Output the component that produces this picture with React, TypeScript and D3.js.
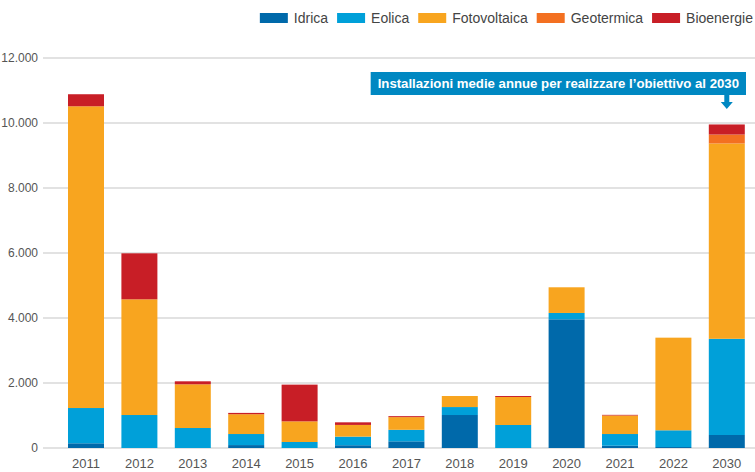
import React, { useEffect, useRef } from 'react'
import * as d3 from 'd3'

const years = ['2011', '2012', '2013', '2014', '2015', '2016', '2017', '2018', '2019', '2020', '2021', '2022', '2030']
const idrica = [145, 0, 0, 90, 0, 85, 205, 1015, 0, 3960, 70, 30, 400]
const eolica = [1085, 1015, 615, 340, 185, 265, 355, 245, 708, 195, 360, 515, 2960]
const fotovoltaica = [9285, 3560, 1345, 610, 635, 360, 390, 340, 862, 790, 570, 2850, 6010]
const geotermica = [0, 0, 0, 0, 0, 0, 0, 0, 0, 0, 0, 0, 275]
const bioenergie = [370, 1415, 92, 40, 1130, 80, 30, 0, 30, 0, 20, 0, 310]

const seriesNames = ['Idrica', 'Eolica', 'Fotovoltaica', 'Geotermica', 'Bioenergie']
const seriesColors = ['#0069aa', '#00a0d9', '#f8a51f', '#f37021', '#c81e26']
const yTicks = [0, 2000, 4000, 6000, 8000, 10000, 12000]
const note = 'Installazioni medie annue per realizzare l\u2019obiettivo al 2030'

const W = 755
const H = 472

export default function App() {
  const ref = useRef<SVGSVGElement>(null)

  useEffect(() => {
    document.body.style.margin = '0'
    const svg = d3.select(ref.current)
    svg.selectAll('*').remove()

    const font = 'Liberation Sans, Arial, sans-serif'
    const data = years.map((y, i) => ({
      year: y,
      Idrica: idrica[i],
      Eolica: eolica[i],
      Fotovoltaica: fotovoltaica[i],
      Geotermica: geotermica[i],
      Bioenergie: bioenergie[i],
    }))

    const x = d3.scaleBand().domain(years).range([59.3, 753.5]).paddingInner(0.326).paddingOuter(0.163)
    const y = d3.scaleLinear().domain([0, 12000]).range([448, 58])

    // gridlines + y labels
    const grid = svg.append('g')
    grid.selectAll('line').data(yTicks).enter().append('line')
      .attr('x1', 43).attr('x2', W)
      .attr('y1', d => y(d)).attr('y2', d => y(d))
      .attr('stroke', '#d9d9d9').attr('stroke-width', 1.5)
    grid.selectAll('text').data(yTicks).enter().append('text')
      .attr('x', 38).attr('y', d => y(d)).attr('dy', '0.35em')
      .attr('text-anchor', 'end')
      .attr('font-family', font).attr('font-size', 12).attr('fill', '#555')
      .text(d => d3.format(',')(d).replace(/,/g, '.'))

    // stacked bars
    const stack = d3.stack<any>().keys(seriesNames)(data)
    const layers = svg.append('g').selectAll('g').data(stack).enter().append('g')
      .attr('fill', (d, i) => seriesColors[i])
    layers.selectAll('rect').data(d => d).enter().append('rect')
      .attr('x', (d: any) => x(d.data.year) as number)
      .attr('width', x.bandwidth())
      .attr('y', d => y(d[1]))
      .attr('height', d => y(d[0]) - y(d[1]))

    // x labels
    svg.append('g').selectAll('text').data(years).enter().append('text')
      .attr('x', d => (x(d) as number) + x.bandwidth() / 2)
      .attr('y', 468)
      .attr('text-anchor', 'middle')
      .attr('font-family', font).attr('font-size', 13).attr('fill', '#555')
      .text(d => d)

    // legend, right aligned
    const legend = svg.append('g')
    let lx = 753
    for (let i = seriesNames.length - 1; i >= 0; i--) {
      const t = legend.append('text')
        .attr('y', 18).attr('dy', '0.35em')
        .attr('font-family', font).attr('font-size', 14).attr('fill', '#444')
        .text(seriesNames[i])
      const tw = (t.node() as SVGTextElement).getComputedTextLength()
      lx -= tw
      t.attr('x', lx)
      lx -= 6
      legend.append('rect').attr('x', lx - 28).attr('y', 13).attr('width', 28).attr('height', 10)
        .attr('fill', seriesColors[i])
      lx -= 28 + 9
    }

    // annotation box + arrow
    const ann = svg.append('g')
    const boxRight = 746
    const txt = ann.append('text')
      .attr('y', 83.5).attr('dy', '0.35em')
      .attr('font-family', font).attr('font-size', 13.2).attr('font-weight', 'bold').attr('fill', '#fff')
      .text(note)
    const nw = (txt.node() as SVGTextElement).getComputedTextLength()
    const boxLeft = boxRight - nw - 14
    ann.insert('rect', 'text').attr('x', boxLeft).attr('y', 72).attr('width', boxRight - boxLeft).attr('height', 23)
      .attr('fill', '#0088c2')
    txt.attr('x', boxLeft + 7)
    const ax = (x('2030') as number) + x.bandwidth() / 2
    ann.append('path')
      .attr('d', `M${ax - 2.5},95 L${ax + 2.5},95 L${ax + 2.5},102 L${ax + 6},102 L${ax},109 L${ax - 6},102 L${ax - 2.5},102 Z`)
      .attr('fill', '#0088c2')
  }, [])

  return <svg ref={ref} width={W} height={H} style={{ display: 'block', background: '#fff' }} />
}
